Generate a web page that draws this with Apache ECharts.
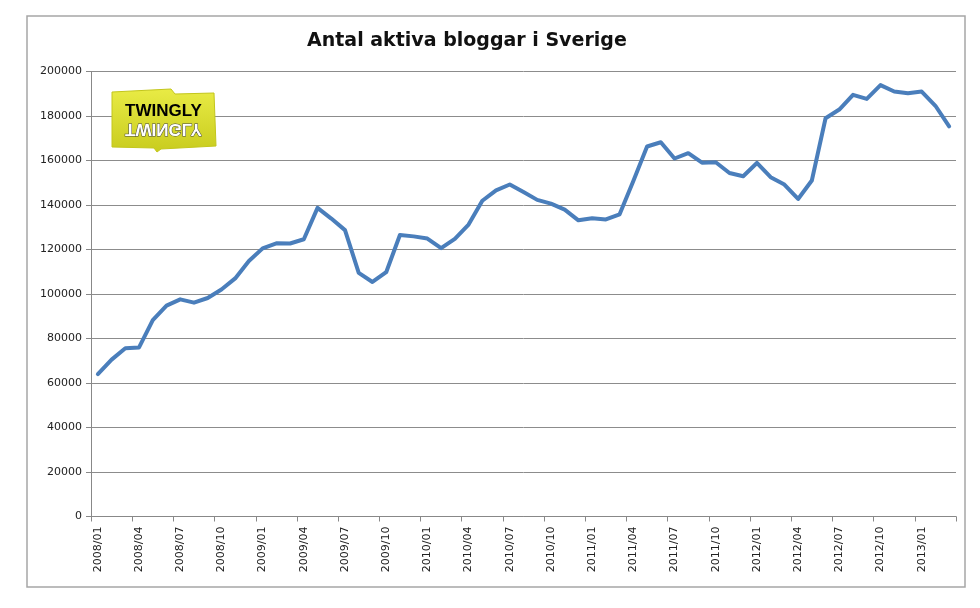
<!DOCTYPE html>
<html>
<head>
<meta charset="utf-8">
<script src="https://cdn.jsdelivr.net/npm/echarts@6/dist/echarts.min.js"></script>
<style>
html,body{margin:0;padding:0;background:#fff;}
#chart{width:980px;height:608px;}
</style>
</head>
<body>
<div id="chart"></div>
<script>
var titleText = 'Antal aktiva bloggar i Sverige';
var logoText = 'TWINGLY';

var months = [
  '2008/01','2008/02','2008/03','2008/04','2008/05','2008/06','2008/07','2008/08','2008/09','2008/10','2008/11','2008/12',
  '2009/01','2009/02','2009/03','2009/04','2009/05','2009/06','2009/07','2009/08','2009/09','2009/10','2009/11','2009/12',
  '2010/01','2010/02','2010/03','2010/04','2010/05','2010/06','2010/07','2010/08','2010/09','2010/10','2010/11','2010/12',
  '2011/01','2011/02','2011/03','2011/04','2011/05','2011/06','2011/07','2011/08','2011/09','2011/10','2011/11','2011/12',
  '2012/01','2012/02','2012/03','2012/04','2012/05','2012/06','2012/07','2012/08','2012/09','2012/10','2012/11','2012/12',
  '2013/01','2013/02','2013/03'
];

var activeBlogs = [
  64000, 70500, 75600, 76000, 88300, 94800, 97600, 96100, 98200, 102000, 107000, 114800,
  120500, 122800, 122700, 124600, 138700, 133900, 128700, 109500, 105400, 109800, 126500, 125900,
  124900, 120600, 124800, 131200, 141900, 146600, 149200, 145800, 142300, 140600, 137900, 133100,
  134000, 133500, 135800, 150800, 166300, 168200, 160900, 163300, 159000, 159200, 154400, 152900,
  158900, 152500, 149200, 142700, 151000, 179000, 182900, 189500, 187700, 193900, 191000, 190200,
  191000, 184600, 175300
];

var yMin = 0, yMax = 200000, yStep = 20000;

var chart = echarts.init(document.getElementById('chart'), null, {renderer: 'canvas'});
var labelFont = 'DejaVu Sans';
chart.setOption({
  backgroundColor: '#ffffff',
  animation: false,
  title: {
    text: titleText,
    left: 302,
    top: 27,
    textStyle: {fontFamily: labelFont, fontWeight: 'bold', fontSize: 19, color: '#111'}
  },
  grid: {left: 91, right: 24, top: 71.5, bottom: 91.5, containLabel: false},
  xAxis: {
    type: 'category',
    data: months,
    boundaryGap: true,
    axisLine: {show: true, lineStyle: {color: '#888', width: 1}},
    axisTick: {show: true, interval: 2, length: 5, lineStyle: {color: '#888'}},
    axisLabel: {interval: 2, rotate: 90, margin: 10, fontFamily: labelFont, fontSize: 11, color: '#222'},
    splitLine: {show: false}
  },
  yAxis: {
    type: 'value',
    min: yMin, max: yMax, interval: yStep,
    axisLine: {show: true, lineStyle: {color: '#888', width: 1}},
    axisTick: {show: true, length: 5, lineStyle: {color: '#888'}},
    axisLabel: {margin: 9, fontFamily: labelFont, fontSize: 11, color: '#222', formatter: function(v){return String(v);}},
    splitLine: {show: true, lineStyle: {color: '#8c8c8c', width: 1}}
  },
  series: [{
    type: 'line',
    data: activeBlogs,
    symbol: 'none',
    smooth: false,
    lineStyle: {color: '#4A7EBB', width: 4, join: 'round', cap: 'round'},
    itemStyle: {color: '#4A7EBB'}
  }],
  graphic: [
    {
      type: 'rect',
      shape: {x: 27, y: 16, width: 938, height: 571},
      style: {fill: 'none', stroke: '#a6a6a6', lineWidth: 1.5},
      silent: true, z: -10
    },
    {
      type: 'polygon',
      shape: {points: [[112,92],[171,89],[175,94],[214,93],[216,146],[161,149],[157,152],[154,148],[112,147]]},
      style: {
        fill: new echarts.graphic.LinearGradient(0, 0, 0, 1, [
          {offset: 0, color: '#e9eb45'},
          {offset: 1, color: '#c8cc1e'}
        ]),
        stroke: '#c3c61c', lineWidth: 1
      },
      silent: true, z: 10
    },
    {
      type: 'text',
      x: 163.5, y: 120,
      style: {text: logoText, x: 0, y: 0, align: 'center', verticalAlign: 'bottom',
              font: 'bold 17px "Liberation Sans"', fill: '#000'},
      silent: true, z: 11
    },
    {
      type: 'text',
      x: 163.5, y: 120, scaleY: -1,
      style: {text: logoText, x: 0, y: 0, align: 'center', verticalAlign: 'bottom',
              font: 'bold 17px "Liberation Sans"', fill: '#ffffff', stroke: '#444', lineWidth: 1},
      silent: true, z: 11
    }
  ]
});
</script>
</body>
</html>
